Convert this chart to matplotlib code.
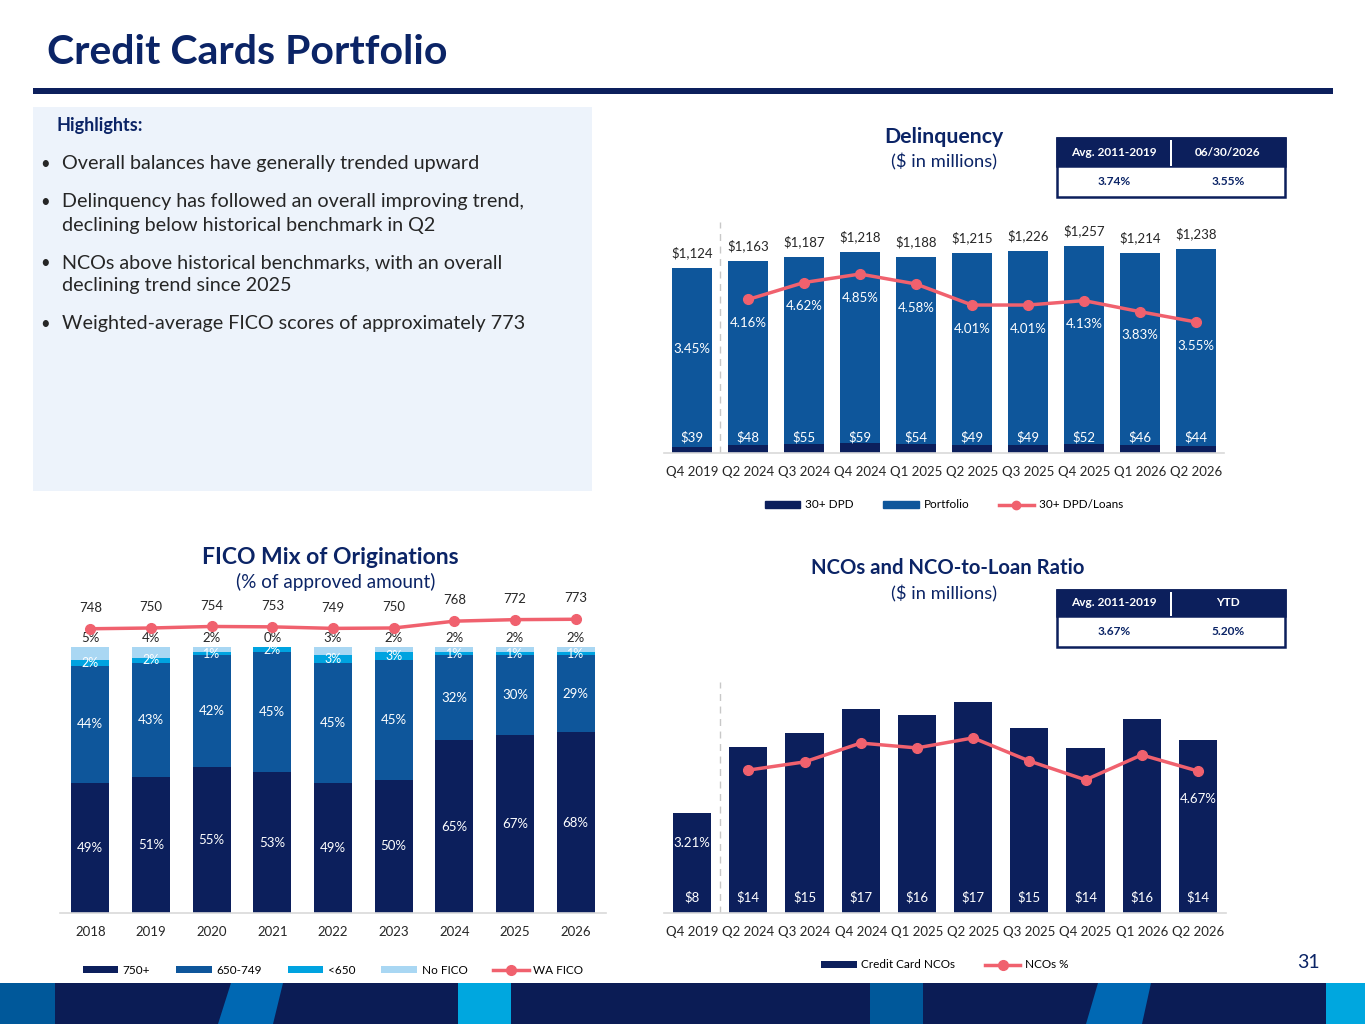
import numpy as np
import matplotlib.pyplot as plt
from matplotlib.patches import Rectangle, Polygon, Patch
from matplotlib.lines import Line2D

plt.rcParams['font.family'] = ['Lato', 'DejaVu Sans']

# ---------------------------------------------------------------------------
# data

quarters = ['Q4 2019', 'Q2 2024', 'Q3 2024', 'Q4 2024', 'Q1 2025',
            'Q2 2025', 'Q3 2025', 'Q4 2025', 'Q1 2026', 'Q2 2026']

# delinquency ($M) and 30+ DPD / loans (%)
portfolio = [1124, 1163, 1187, 1218, 1188, 1215, 1226, 1257, 1214, 1238]
dpd_30 = [39, 48, 55, 59, 54, 49, 49, 52, 46, 44]
dpd_ratio = [3.45, 4.16, 4.62, 4.85, 4.58, 4.01, 4.01, 4.13, 3.83, 3.55]

# NCOs ($M) and NCO-to-loan ratio (%)
ncos = [8.3, 13.7, 14.9, 16.9, 16.4, 17.4, 15.3, 13.6, 16.0, 14.3]
nco_pct = [3.21, 4.70, 4.97, 5.59, 5.43, 5.76, 5.00, 4.38, 5.20, 4.67]

# FICO mix of originations (% of approved amount)
years = ['2018', '2019', '2020', '2021', '2022', '2023', '2024', '2025', '2026']
fico_750 = [49, 51, 55, 53, 49, 50, 65, 67, 68]
fico_650 = [44, 43, 42, 45, 45, 45, 32, 30, 29]
fico_low = [2, 2, 1, 2, 3, 3, 1, 1, 1]
fico_none = [5, 4, 2, 0, 3, 2, 2, 2, 2]
wa_fico = [748, 750, 754, 753, 749, 750, 768, 772, 773]

# benchmark tables
dq_table_head = ['Avg. 2011-2019', '06/30/2026']
dq_table_vals = ['3.74%', '3.55%']
nco_table_head = ['Avg. 2011-2019', 'YTD']
nco_table_vals = ['3.67%', '5.20%']

highlights = [
    ['Overall balances have generally trended upward'],
    ['Delinquency has followed an overall improving trend,',
     'declining below historical benchmark in Q2'],
    ['NCOs above historical benchmarks, with an overall',
     'declining trend since 2025'],
    ['Weighted-average FICO scores of approximately 773'],
]

###############################################################################

W, H = 1365, 1024
NAVY = '#0c1f5c'
TITLE = '#0b2466'
BLUE = '#0e569b'
CYAN = '#00a3e0'
LIGHT = '#a9d7f3'
RED = '#f0616e'
TXT = '#262626'
AXIS = '#d9d9d9'


def box(l, t, r, b):
    return [l / W, 1 - b / H, (r - l) / W, (b - t) / H]


def ftext(x, y, s, **kw):
    fig.text(x / W, 1 - y / H, s, **kw)


def frect(l, t, r, b, **kw):
    fig.add_artist(Rectangle((l / W, 1 - b / H), (r - l) / W, (b - t) / H,
                             transform=fig.transFigure, **kw))


def fpoly(pts, **kw):
    fig.add_artist(Polygon([(x / W, 1 - y / H) for x, y in pts],
                           closed=True, transform=fig.transFigure, **kw))


def style_axes(ax):
    for side in ['top', 'left', 'right']:
        ax.spines[side].set_visible(False)
    ax.spines['bottom'].set_color(AXIS)
    ax.spines['bottom'].set_linewidth(1.2)
    ax.set_yticks([])
    ax.tick_params(axis='x', length=0, pad=9, labelsize=9.5, labelcolor=TXT)


def draw_table(l, t, r, b, split, head, vals):
    mid = (l + r) / 2
    frect(l, t, r, b, facecolor='white', edgecolor=NAVY, lw=1.8)
    frect(l, t, r, split, facecolor=NAVY, edgecolor=NAVY, lw=1.8)
    frect(mid - 1, t + 2, mid + 1, split, facecolor='white', lw=0)
    for j, (hd, v) in enumerate(zip(head, vals)):
        cx = l + (mid - l) / 2 + j * (r - l) / 2
        ftext(cx, (t + split) / 2, hd, fontsize=8.6, fontweight='bold',
              color='white', ha='center', va='center')
        ftext(cx, (split + b) / 2, v, fontsize=8.6, fontweight='bold',
              color=TITLE, ha='center', va='center')


fig = plt.figure(figsize=(W / 100, H / 100), dpi=100)

# ---------------------------------------------------------------------------
# slide furniture

ftext(47, 52, 'Credit Cards Portfolio', fontsize=29.5, fontweight='bold',
      color=TITLE, va='center')
frect(33, 88, 1333, 94, facecolor=NAVY, lw=0)

frect(33, 107, 592, 491, facecolor='#edf3fb', lw=0)
ftext(57, 125, 'Highlights:', fontsize=13, fontweight='bold', color=TITLE,
      va='center')
y = 164
for lines in highlights:
    ftext(40, y, '\u2022', fontsize=12, color=TXT, va='center')
    for k, line in enumerate(lines):
        ftext(62, y, line, fontsize=14.2, color=TXT, va='center')
        if k < len(lines) - 1:
            y += 23
    y += 38

# bottom band
frect(0, 983, W, H, facecolor='#0b1c55', lw=0)
frect(0, 983, 55, H, facecolor='#00589a', lw=0)
fpoly([(231, 983), (283, 983), (273, H), (218, H)], facecolor='#0068b3', lw=0)
frect(458, 983, 511, H, facecolor='#00a7df', lw=0)
frect(870, 983, 923, H, facecolor='#00589a', lw=0)
fpoly([(1098, 983), (1151, 983), (1142, H), (1086, H)], facecolor='#0068b3', lw=0)
frect(1326, 983, W, H, facecolor='#00a7df', lw=0)

ftext(1308, 963, '31', fontsize=14, color=TITLE, ha='center', va='center')

# ---------------------------------------------------------------------------
# Delinquency

ftext(944, 137, 'Delinquency', fontsize=15.3, fontweight='bold', color=TITLE,
      ha='center', va='center')
ftext(944, 162, '($ in millions)', fontsize=13.2, color=TITLE,
      ha='center', va='center')
draw_table(1057, 138, 1285, 197, 166, dq_table_head, dq_table_vals)

ax1 = fig.add_axes(box(664, 210, 1224, 453))
x = np.arange(len(quarters))
ax1.bar(x, portfolio, width=0.71, color=BLUE)
ax1.bar(x, dpd_30, width=0.71, color=NAVY)
ax1.set_xlim(-0.5, len(quarters) - 0.5)
ax1.set_ylim(0, 243 / 0.1648)
ax1.set_xticks(x)
ax1.set_xticklabels(quarters)
style_axes(ax1)
ax1.axvline(0.5, ymin=0, ymax=(453 - 222) / 243, color='#c8c8c8',
            ls=(0, (5, 4)), lw=1)
for i, v in enumerate(portfolio):
    ax1.annotate(f'${v:,}', (i, v), xytext=(0, 11), textcoords='offset points',
                 ha='center', va='center', fontsize=9.5, color=TXT)
for i, v in enumerate(dpd_30):
    ax1.annotate(f'${v}', (i, 0), xytext=(0, 11.5), textcoords='offset points',
                 ha='center', va='center', fontsize=9.5, color='white')

ax1b = ax1.twinx()
ax1b.set_ylim(0, 243 / 36.9)
ax1b.axis('off')
ax1b.plot(x[1:], dpd_ratio[1:], color=RED, lw=2.5, marker='o', ms=7)
for i, v in enumerate(dpd_ratio):
    ax1b.annotate(f'{v:.2f}%', (i, v), xytext=(0, -17),
                  textcoords='offset points', ha='center', va='center',
                  fontsize=9.5, color='white')
ax1b.legend(handles=[Patch(color=NAVY, label='30+ DPD'),
                     Patch(color=BLUE, label='Portfolio'),
                     Line2D([], [], color=RED, lw=2.5, marker='o', ms=6,
                            label='30+ DPD/Loans')],
            loc='center', bbox_to_anchor=(0.5, -52 / 243), ncol=3,
            frameon=False, fontsize=8.5, handlelength=3, handleheight=0.6,
            columnspacing=2.5, handletextpad=0.4)

# ---------------------------------------------------------------------------
# FICO mix

ftext(330, 558, 'FICO Mix of Originations', fontsize=16.5, fontweight='bold',
      color=TITLE, ha='center', va='center')
ftext(336, 582, '(% of approved amount)', fontsize=13.6, color=TITLE,
      ha='center', va='center')

ax2 = fig.add_axes(box(60, 560, 606, 913))
xf = np.arange(len(years))
segments = [(fico_750, NAVY, '750+'), (fico_650, BLUE, '650-749'),
            (fico_low, CYAN, '<650'), (fico_none, LIGHT, 'No FICO')]
bottom = np.zeros(len(years))
for k, (vals, col, lab) in enumerate(segments):
    vals = np.array(vals, dtype=float)
    ax2.bar(xf, vals, bottom=bottom, width=0.63, color=col, label=lab)
    for i, v in enumerate(vals):
        if k < 3:
            ax2.text(i, bottom[i] + v / 2, f'{v:.0f}%', ha='center',
                     va='center', fontsize=9.5 if k < 2 else 9, color='white')
        else:
            ax2.annotate(f'{v:.0f}%', (i, bottom[i] + v), xytext=(0, 6.5),
                         textcoords='offset points', ha='center', va='center',
                         fontsize=9.5, color=TXT)
    bottom += vals
ax2.set_xlim(-0.5, len(years) - 0.5)
ax2.set_ylim(0, 353 / 2.66)
ax2.set_xticks(xf)
ax2.set_xticklabels(years)
style_axes(ax2)

ax2b = ax2.twinx()
ax2b.set_ylim(0, 353 / 0.38)
ax2b.axis('off')
ax2b.plot(xf, wa_fico, color=RED, lw=2.5, marker='o', ms=7, label='WA FICO')
for i, v in enumerate(wa_fico):
    ax2b.annotate(f'{v}', (i, v), xytext=(0, 15), textcoords='offset points',
                  ha='center', va='center', fontsize=9.5, color=TXT)
h2, l2 = ax2.get_legend_handles_labels()
h2b, l2b = ax2b.get_legend_handles_labels()
ax2b.legend(h2 + h2b, l2 + l2b, loc='center', bbox_to_anchor=(0.5, -57 / 353),
            ncol=5, frameon=False, fontsize=8.5, handlelength=3,
            handleheight=0.6, columnspacing=2.2, handletextpad=0.4)

# ---------------------------------------------------------------------------
# NCOs

ftext(948, 568, 'NCOs and NCO-to-Loan Ratio', fontsize=14.6, fontweight='bold',
      color=TITLE, ha='center', va='center')
ftext(944, 594, '($ in millions)', fontsize=13.2, color=TITLE,
      ha='center', va='center')
draw_table(1057, 590, 1285, 647, 616, nco_table_head, nco_table_vals)

ax3 = fig.add_axes(box(664, 660, 1226, 913))
ax3.bar(x, ncos, width=0.68, color=NAVY, label='Credit Card NCOs')
ax3.set_xlim(-0.5, len(quarters) - 0.5)
ax3.set_ylim(0, 253 / 12.1)
ax3.set_xticks(x)
ax3.set_xticklabels(quarters)
style_axes(ax3)
ax3.axvline(0.5, ymin=0, ymax=(913 - 682) / 253, color='#c8c8c8',
            ls=(0, (5, 4)), lw=1)
for i, v in enumerate(ncos):
    ax3.annotate(f'${v:.0f}', (i, 0), xytext=(0, 11.5),
                 textcoords='offset points', ha='center', va='center',
                 fontsize=9.5, color='white')

ax3b = ax3.twinx()
ax3b.set_ylim(0, 253 / 30.4)
ax3b.axis('off')
ax3b.plot(x[1:], nco_pct[1:], color=RED, lw=2.5, marker='o', ms=7,
          label='NCOs %')
for i in [0, len(nco_pct) - 1]:
    ax3b.annotate(f'{nco_pct[i]:.2f}%', (i, nco_pct[i]), xytext=(0, -20),
                  textcoords='offset points', ha='center', va='center',
                  fontsize=9.5, color='white')
h3, l3 = ax3.get_legend_handles_labels()
h3b, l3b = ax3b.get_legend_handles_labels()
ax3b.legend(h3 + h3b, l3 + l3b, loc='center', bbox_to_anchor=(0.5, -52 / 253),
            ncol=2, frameon=False, fontsize=8.5, handlelength=3,
            handleheight=0.6, columnspacing=2.5, handletextpad=0.4)

fig.savefig('out.png', dpi=100)
